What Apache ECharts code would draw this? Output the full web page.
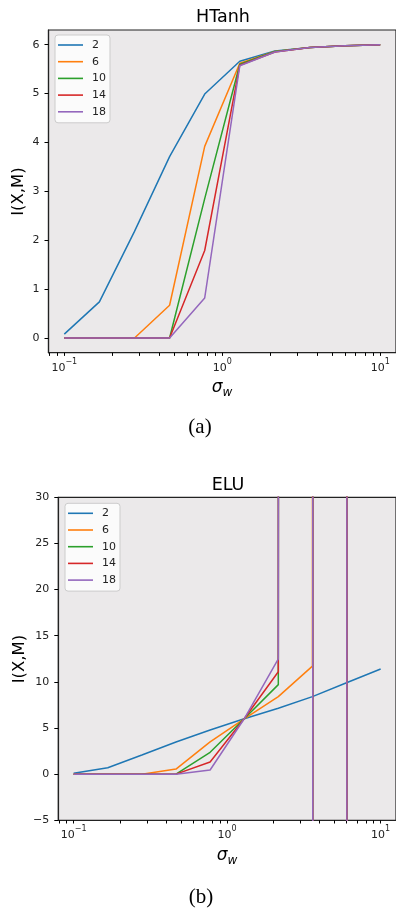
<!DOCTYPE html>
<html>
<head>
<meta charset="utf-8">
<script src="https://cdn.jsdelivr.net/npm/echarts@6/dist/echarts.min.js"></script>
<style>
html,body{margin:0;padding:0;background:#fff;}
#c{width:396px;height:909px;}
</style>
</head>
<body>
<div id="c"></div>
<script>
// ---- data ----
const sigmaW = [0.1, 0.1668, 0.2783, 0.4642, 0.7743, 1.2915, 2.1544, 3.5938, 5.9948, 10];
const depthNames = ['2', '6', '10', '14', '18'];
const colors = ['#1f77b4', '#ff7f0e', '#2ca02c', '#d62728', '#9467bd'];

// (a) HTanh
const htanhD2  = [0.08, 0.74, 2.18, 3.71, 4.99, 5.66, 5.87, 5.94, 5.98, 6.0];
const htanhD6  = [0, 0, 0, 0.67, 3.92, 5.62, 5.86, 5.94, 5.98, 6.0];
const htanhD10 = [0, 0, 0, 0, 2.85, 5.60, 5.86, 5.94, 5.98, 6.0];
const htanhD14 = [0, 0, 0, 0, 1.79, 5.58, 5.85, 5.94, 5.98, 6.0];
const htanhD18 = [0, 0, 0, 0, 0.82, 5.57, 5.85, 5.94, 5.98, 6.0];

// (b) ELU  (values far outside the axis range are the diverged points)
const eluD2  = [0.1, 0.7, 2.08, 3.49, 4.79, 6.0, 7.14, 8.4, 9.9, 11.4];
const eluD6  = [0, 0, 0, 0.55, 3.49, 6.0, 8.4, 11.7, 1e4, -1e6];
const eluD10 = [0, 0, 0, 0, 2.37, 6.0, 9.7, 1e4, -1e6, 1e8];
const eluD14 = [0, 0, 0, 0, 1.32, 6.0, 11.1, 1e4, -1e6, 1e8];
const eluD18 = [0, 0, 0, 0, 0.45, 6.0, 12.5, 1e4, -1e6, 1e8];

// ticks
const xMajorTicks = [0.1, 1, 10];
const xMajorExps = ['−1', '0', '1'];
const xMinorTicks = [0.08, 0.09, 0.2, 0.3, 0.4, 0.5, 0.6, 0.7, 0.8, 0.9, 2, 3, 4, 5, 6, 7, 8, 9];
const yTicksA = [0, 1, 2, 3, 4, 5, 6];
const yTicksB = [-5, 0, 5, 10, 15, 20, 25, 30];

// ---- chart ----
const FONT = 'DejaVu Sans';
const xMin = Math.pow(10, -1.1), xMax = Math.pow(10, 1.1);
const gridA = {left: 48.5, top: 30, width: 349.1, height: 322.7};
const gridB = {left: 58.3, top: 497.3, width: 339.5, height: 323};

function pairs(ys) { return sigmaW.map((x, i) => [x, ys[i]]); }

function xAx(gridIndex) {
  return {
    type: 'log', logBase: 10, gridIndex, min: xMin, max: xMax, position: 'bottom',
    axisLine: {show: true, onZero: false, lineStyle: {color: '#222', width: 1.2}},
    axisTick: {show: true, length: 3.2, customValues: xMajorTicks.concat(xMinorTicks), lineStyle: {color: '#000', width: 1}},
    axisLabel: {
      show: true, margin: 4.8, customValues: xMajorTicks,
      formatter: function (v) {
        const i = xMajorTicks.findIndex(t => Math.abs(Math.log10(t) - Math.log10(v)) < 1e-6);
        return '{b|10}{s|' + xMajorExps[i < 0 ? 0 : i] + '}';
      },
      rich: {
        b: {fontFamily: FONT, fontSize: 11, color: '#222', lineHeight: 16, verticalAlign: 'bottom'},
        s: {fontFamily: FONT, fontSize: 8, color: '#222', lineHeight: 9, verticalAlign: 'top'}
      }
    },
    splitLine: {show: false}
  };
}
function yAx(gridIndex, min, max, ticks) {
  return {
    type: 'value', gridIndex, min, max, position: 'left',
    axisLine: {show: true, onZero: false, lineStyle: {color: '#222', width: 1.2}},
    axisTick: {show: true, length: 4, customValues: ticks, lineStyle: {color: '#000', width: 1}},
    axisLabel: {
      show: true, margin: 9, customValues: ticks, fontFamily: FONT, fontSize: 11, color: '#222',
      formatter: v => (v < 0 ? '−' + Math.abs(v) : String(v))
    },
    splitLine: {show: false}
  };
}

const aSeries = [htanhD2, htanhD6, htanhD10, htanhD14, htanhD18];
const bSeries = [eluD2, eluD6, eluD10, eluD14, eluD18];
const series = [];
aSeries.forEach((ys, i) => series.push({
  name: depthNames[i], type: 'line', xAxisIndex: 0, yAxisIndex: 0, data: pairs(ys),
  symbol: 'none', showSymbol: false, clip: true, color: colors[i],
  lineStyle: {color: colors[i], width: 1.5}
}));
bSeries.forEach((ys, i) => series.push({
  name: depthNames[i], type: 'line', xAxisIndex: 1, yAxisIndex: 1, data: pairs(ys),
  symbol: 'none', showSymbol: false, clip: true, color: colors[i],
  lineStyle: {color: colors[i], width: 1.5}
}));

function legend(left, top) {
  return {
    data: depthNames.map(n => ({name: n, icon: 'rect'})), orient: 'vertical', left, top,
    itemWidth: 25, itemHeight: 1.6, itemGap: 4.7,
    padding: [4, 4, 5, 3],
    backgroundColor: 'rgba(255,255,255,0.8)', borderColor: '#cccccc', borderWidth: 1, borderRadius: 3,
    textStyle: {fontFamily: FONT, fontSize: 11, color: '#222', lineHeight: 12, padding: [0, 0, 0, 4]},
    selectedMode: false
  };
}

function sigmaLabel(x, y) {
  return {
    type: 'text', x, y, silent: true,
    style: {
      text: '{s|σ}{w|w}', align: 'center', verticalAlign: 'middle', textAlign: 'center', textVerticalAlign: 'middle',
      rich: {
        s: {fontFamily: FONT, fontSize: 17, fontStyle: 'italic', fill: '#000', lineHeight: 22, verticalAlign: 'middle'},
        w: {fontFamily: FONT, fontSize: 12, fontStyle: 'italic', fill: '#000', lineHeight: 12, verticalAlign: 'bottom'}
      }
    }
  };
}
function plainText(x, y, text, font, rot) {
  return {
    type: 'text', x, y, rotation: rot || 0, silent: true,
    style: {text, font, fill: '#000', align: 'center', verticalAlign: 'middle', textAlign: 'center', textVerticalAlign: 'middle'}
  };
}

const gridStyle = {show: true, backgroundColor: '#ebe9ea', borderColor: '#222', borderWidth: 1.2, containLabel: false};

const option = {
  animation: false,
  backgroundColor: '#ffffff',
  grid: [Object.assign({}, gridA, gridStyle), Object.assign({}, gridB, gridStyle)],
  xAxis: [xAx(0), xAx(1)],
  yAxis: [yAx(0, -0.3, 6.3, yTicksA), yAx(1, -5, 30, yTicksB)],
  legend: [legend(55, 35), legend(65, 503.3)],
  series,
  graphic: [
    plainText(223, 17, 'HTanh', 'normal 17.5px "DejaVu Sans"'),
    plainText(228, 485, 'ELU', 'normal 17.5px "DejaVu Sans"'),
    plainText(19, 191.5, 'I(X,M)', 'normal 16.5px "DejaVu Sans"', Math.PI / 2),
    plainText(20, 659, 'I(X,M)', 'normal 16.5px "DejaVu Sans"', Math.PI / 2),
    sigmaLabel(222, 388),
    sigmaLabel(227, 856),
    plainText(200, 427, '(a)', 'normal 21px "Liberation Serif"'),
    plainText(201, 897, '(b)', 'normal 21px "Liberation Serif"')
  ]
};

const chart = echarts.init(document.getElementById('c'), null, {renderer: 'canvas', width: 396, height: 909});
chart.setOption(option);
</script>
</body>
</html>
